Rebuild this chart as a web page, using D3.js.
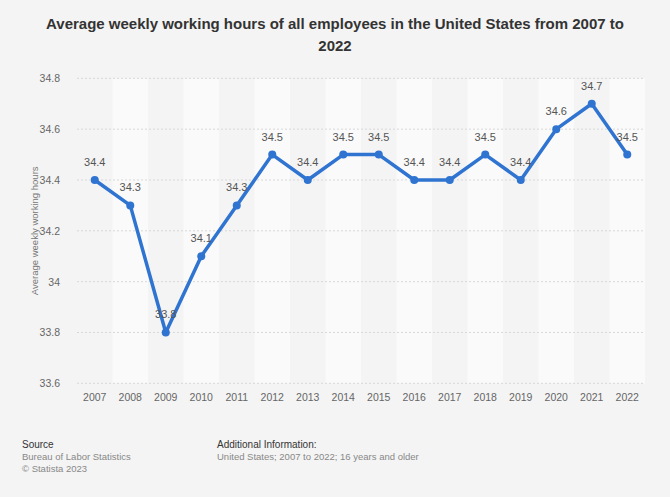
<!DOCTYPE html>
<html><head><meta charset="utf-8">
<script src="https://cdn.jsdelivr.net/npm/d3@7"></script>
<style>body{margin:0;background:#f4f4f4;font-family:"Liberation Sans",Arial,sans-serif;}</style>
</head><body>
<svg id="c" width="670" height="497"></svg>
<script>
const years = ["2007","2008","2009","2010","2011","2012","2013","2014","2015","2016","2017","2018","2019","2020","2021","2022"];
const hours = [34.4,34.3,33.8,34.1,34.3,34.5,34.4,34.5,34.5,34.4,34.4,34.5,34.4,34.6,34.7,34.5];
const yTicks = [33.6,33.8,34,34.2,34.4,34.6,34.8];

const svg = d3.select("#c");
svg.append("rect").attr("width",670).attr("height",497).attr("fill","#f4f4f4");
const m = {l:77, r:645, t:78.3, b:383.3};
const x = d3.scaleBand().domain(years).range([m.l,m.r]);
const y = d3.scaleLinear().domain([33.6,34.8]).range([m.b,m.t]);

// alternating bands
svg.append("g").selectAll("rect").data(years.filter((d,i)=>i%2===1)).join("rect")
  .attr("x",d=>x(d)).attr("width",x.bandwidth()).attr("y",m.t).attr("height",m.b-m.t)
  .attr("fill","#fafafa");

// gridlines
svg.append("g").selectAll("line").data(yTicks).join("line")
  .attr("x1",m.l).attr("x2",m.r).attr("y1",d=>y(d)).attr("y2",d=>y(d))
  .attr("stroke","#d8d8d8").attr("stroke-dasharray","2,2").attr("stroke-width",1);

// y axis
const ya = svg.append("g").attr("transform",`translate(${m.l-14},0)`)
  .call(d3.axisLeft(y).tickValues(yTicks).tickSize(0).tickFormat(d=>String(d)));
ya.select(".domain").remove();
ya.selectAll("text").attr("fill","#666").attr("font-size","10.5px").attr("font-family","Liberation Sans, Arial, sans-serif");

// x axis
const xa = svg.append("g").attr("transform",`translate(0,${m.b+5})`)
  .call(d3.axisBottom(x).tickSize(0));
xa.select(".domain").remove();
xa.selectAll("text").attr("fill","#666").attr("font-size","10.5px").attr("font-family","Liberation Sans, Arial, sans-serif").attr("dy","0.9em");

// y title
svg.append("text").attr("transform",`translate(38,${(m.t+m.b)/2}) rotate(-90)`)
  .attr("text-anchor","middle").attr("fill","#777").attr("font-size","9.5px").text("Average weekly working hours");

// line
const data = years.map((d,i)=>({year:d,v:hours[i]}));
const cx = d=>x(d.year)+x.bandwidth()/2;
svg.append("path").datum(data)
  .attr("d",d3.line().x(cx).y(d=>y(d.v)))
  .attr("fill","none").attr("stroke","#2f74d0").attr("stroke-width",3.5).attr("stroke-linejoin","round");
svg.append("g").selectAll("circle").data(data).join("circle")
  .attr("cx",cx).attr("cy",d=>y(d.v)).attr("r",4).attr("fill","#2f74d0");
svg.append("g").selectAll("text").data(data).join("text")
  .attr("x",cx).attr("y",d=>y(d.v)-14).attr("text-anchor","middle")
  .attr("fill","#555").attr("font-size","11px").text(d=>String(d.v));

// title
const t = svg.append("text").attr("text-anchor","middle").attr("fill","#333")
  .attr("font-size","15px").attr("font-weight","bold");
t.append("tspan").attr("x",335).attr("y",29).text("Average weekly working hours of all employees in the United States from 2007 to");
t.append("tspan").attr("x",335).attr("y",51).text("2022");

// footer
const f = svg.append("g").attr("font-size","9.5px");
f.append("text").attr("x",22).attr("y",448).attr("fill","#333").attr("font-size","10px").text("Source");
f.append("text").attr("x",22).attr("y",460).attr("fill","#888").text("Bureau of Labor Statistics");
f.append("text").attr("x",22).attr("y",472).attr("fill","#888").text("© Statista 2023");
f.append("text").attr("x",217).attr("y",448).attr("fill","#333").attr("font-size","10px").text("Additional Information:");
f.append("text").attr("x",217).attr("y",460).attr("fill","#888").text("United States; 2007 to 2022; 16 years and older");
</script>
</body></html>
